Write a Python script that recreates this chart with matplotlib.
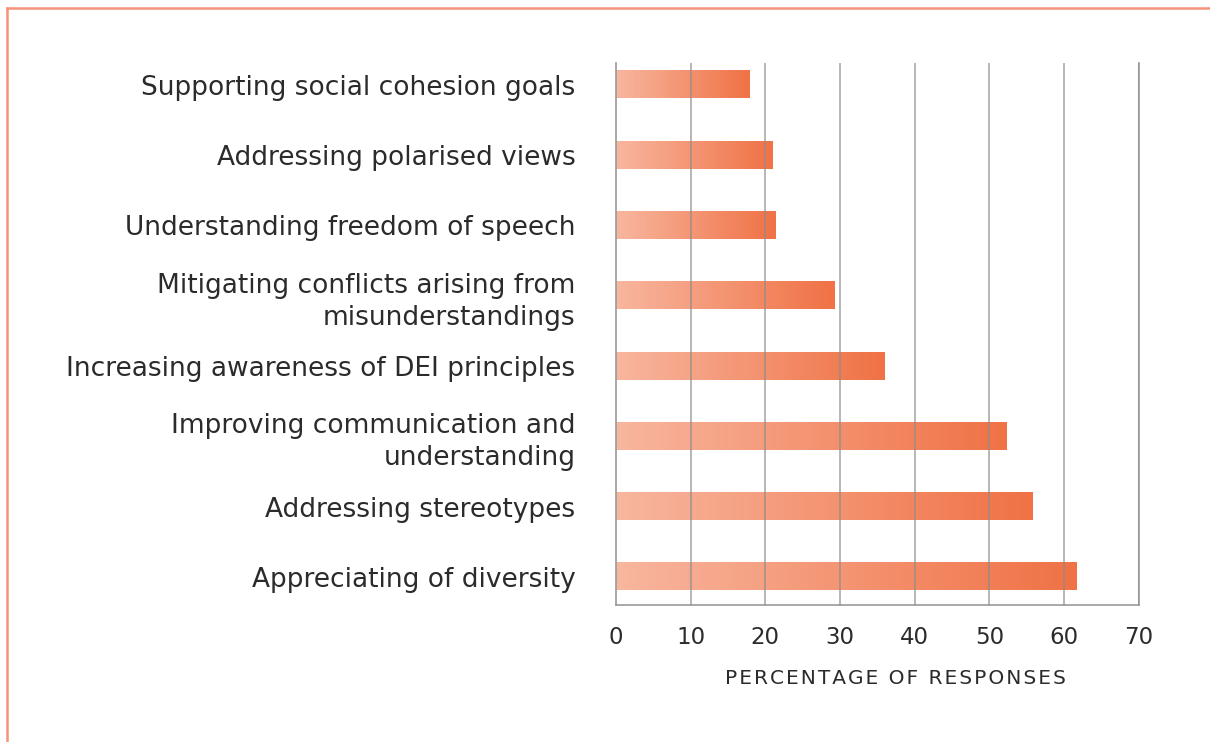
import matplotlib
matplotlib.use("Agg")
import numpy as np
import matplotlib.pyplot as plt
from matplotlib.colors import LinearSegmentedColormap
from matplotlib.lines import Line2D

# Survey categories (top to bottom) and share of responses (%)
categories = [
    "Supporting social cohesion goals",
    "Addressing polarised views",
    "Understanding freedom of speech",
    "Mitigating conflicts arising from\nmisunderstandings",
    "Increasing awareness of DEI principles",
    "Improving communication and\nunderstanding",
    "Addressing stereotypes",
    "Appreciating of diversity",
]
percentages = [17.9, 21.0, 21.4, 29.2, 35.9, 52.3, 55.7, 61.7]
x_ticks = [0, 10, 20, 30, 40, 50, 60, 70]
x_title = "PERCENTAGE OF RESPONSES"

plt.rcParams["font.family"] = ["DejaVu Sans"]
text_color = "#2b2b2b"
grid_color = "#8c8c8c"
bar_cmap = LinearSegmentedColormap.from_list("warm", ["#f8b39a", "#f06a3b"])

fig = plt.figure(figsize=(12.10, 7.42), dpi=100)
ax = fig.add_axes([0.509, 0.1846, 0.4322, 0.7305])

# frame around the panel (top and left edges are visible)
fig.add_artist(Line2D([0.0058, 0.0058], [0.0, 0.989], transform=fig.transFigure,
                      color="#f4927a", lw=1.8))
fig.add_artist(Line2D([0.0058, 1.0], [0.989, 0.989], transform=fig.transFigure,
                      color="#f4927a", lw=1.8))

bar_h = 0.385
gradient = np.linspace(0, 1, 256).reshape(1, -1)
for i, val in enumerate(percentages):
    ax.imshow(gradient, cmap=bar_cmap, aspect="auto", alpha=0.95,
              extent=[0, val, i + bar_h / 2, i - bar_h / 2], zorder=2,
              interpolation="bilinear")

ax.set_xlim(0, 70)
ax.set_ylim(len(categories) - 1 + 0.40, -0.31)
ax.set_xticks(x_ticks)
ax.set_xticklabels([str(t) for t in x_ticks], fontsize=16.5, color=text_color)
ax.set_yticks(range(len(categories)))
ax.set_yticklabels(categories, fontsize=19, color=text_color, linespacing=1.3)
ax.tick_params(axis="both", length=0)
ax.tick_params(axis="x", pad=15)
ax.tick_params(axis="y", pad=29)

for t in x_ticks[1:]:
    ax.axvline(t, color=grid_color, lw=1.1, alpha=0.8, zorder=4)

ax.spines["top"].set_visible(False)
for side in ["left", "bottom", "right"]:
    ax.spines[side].set_color("#9a9a9a")
    ax.spines[side].set_linewidth(1.2)

# a little letter spacing on the axis title
ax.set_xlabel("\u200a".join(x_title), fontsize=14.5, color=text_color)
ax.xaxis.set_label_coords(0.534, -0.118)

fig.savefig("out.png", dpi=100, facecolor="white")
